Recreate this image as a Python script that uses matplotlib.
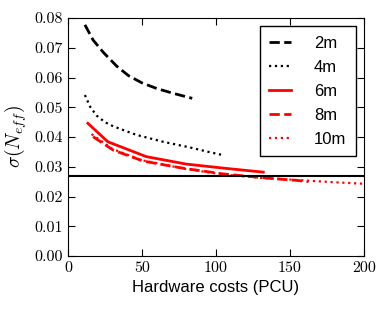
import matplotlib
matplotlib.use("Agg")
import matplotlib.pyplot as plt

plt.rcParams['font.family'] = ['Liberation Sans', 'DejaVu Sans']
plt.rcParams['mathtext.fontset'] = 'cm'
plt.rcParams['axes.unicode_minus'] = False

# hardware costs (PCU) and sigma(N_eff) per detector spacing
cost_2m = [11.5, 17, 24, 33, 41, 50, 60, 71, 84]
sig_2m = [0.0777, 0.0726, 0.0684, 0.0638, 0.0606, 0.0582, 0.0563, 0.0547, 0.0530]

cost_4m = [11.5, 15, 19.4, 25, 30.6, 46.4, 64.4, 82.4, 95, 104]
sig_4m = [0.0541, 0.0502, 0.0472, 0.0450, 0.0436, 0.0407, 0.0384, 0.0365, 0.0350, 0.0340]

cost_6m = [13.5, 27, 53, 80, 106, 132]
sig_6m = [0.0446, 0.0384, 0.0334, 0.0309, 0.0295, 0.0282]

cost_8m = [17, 30.6, 51, 78, 105, 136.5, 153, 162.5]
sig_8m = [0.0401, 0.0356, 0.0319, 0.0295, 0.0276, 0.0261, 0.0255, 0.0250]

cost_10m = [16, 30, 50, 78, 105, 130, 160, 180, 200]
sig_10m = [0.0410, 0.0360, 0.0322, 0.0294, 0.0274, 0.0263, 0.0254, 0.0248, 0.0243]

baseline = 0.0269

fig = plt.figure(figsize=(3.88, 3.10), dpi=100)
ax = fig.add_axes([0.175, 0.174, 0.763, 0.768])

ax.plot(cost_2m, sig_2m, color='black', ls='--', lw=2, label='2m')
ax.plot(cost_4m, sig_4m, color='black', ls=':', lw=1.6, label='4m')
ax.plot(cost_6m, sig_6m, color='red', ls='-', lw=2, label='6m')
ax.plot(cost_8m, sig_8m, color='red', ls='--', lw=2, label='8m')
ax.plot(cost_10m, sig_10m, color='red', ls=':', lw=1.6, label='10m')
ax.axhline(baseline, color='black', lw=1.5)

ax.set_xlim(0, 200)
ax.set_ylim(0, 0.08)
ax.set_xticks([0, 50, 100, 150, 200])
ax.set_yticks([0.0, 0.01, 0.02, 0.03, 0.04, 0.05, 0.06, 0.07, 0.08])
ax.set_xticklabels(['0', '50', '100', '150', '200'], fontfamily='cmr10', fontsize=11.5)
ax.set_yticklabels(['%.2f' % v for v in ax.get_yticks()], fontfamily='cmr10', fontsize=11.5)
ax.tick_params(direction='in', top=True, right=True, length=5)
ax.set_xlabel('Hardware costs (PCU)', fontsize=12)
ax.set_ylabel(r'$\sigma(N_{eff})$', fontsize=14)

leg = ax.legend(loc='upper right', fontsize=12, fancybox=False, edgecolor='black',
                handlelength=1.3, handletextpad=1.4, labelspacing=0.54,
                borderpad=0.56, borderaxespad=0.5, framealpha=1)
leg.get_frame().set_linewidth(1.0)

fig.savefig('out.png', dpi=100)
